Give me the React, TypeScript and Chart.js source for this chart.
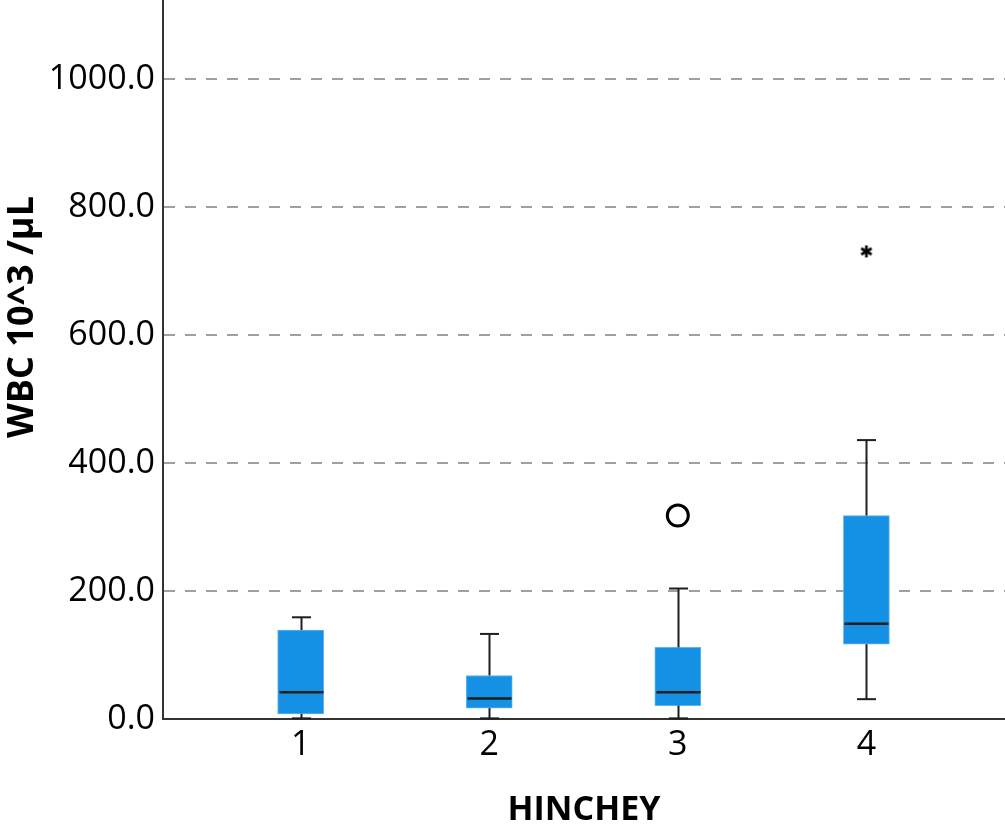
import React, { useEffect, useRef } from 'react';
import { Chart, registerables } from 'chart.js';

Chart.register(...registerables);

// ---- data ----
const categories = [1, 2, 3, 4];
const categoryLabels = ['1', '2', '3', '4'];
const whiskerLow = [1, 1, 1, 31];
const q1Values = [8, 17, 21, 117];
const medianValues = [42, 32, 42, 149];
const q3Values = [139, 68, 112, 318];
const whiskerHigh = [159, 133, 204, 436];
const outlierCategories = [3, 4];
const outlierValues = [318, 731];
const outlierKinds = ['outlier', 'extreme']; // O = outlier, * = extreme
const yTickValues = [0, 200, 400, 600, 800, 1000];
const yAxisTitle = 'WBC 10^3 /µL';
const xAxisTitle = 'HINCHEY';

const FONT = "'Open Sans', 'Noto Sans', sans-serif";

function makeAsterisk(): HTMLCanvasElement {
  const c = document.createElement('canvas');
  c.width = 16;
  c.height = 16;
  const g = c.getContext('2d')!;
  g.strokeStyle = '#000';
  g.lineWidth = 2.6;
  g.lineCap = 'butt';
  const r = 6;
  for (let k = 0; k < 3; k++) {
    const a = Math.PI / 2 + (k * Math.PI) / 3;
    g.beginPath();
    g.moveTo(8 - r * Math.cos(a), 8 - r * Math.sin(a));
    g.lineTo(8 + r * Math.cos(a), 8 + r * Math.sin(a));
    g.stroke();
  }
  return c;
}

const boxPlugin = {
  id: 'boxWhiskers',
  afterDatasetsDraw(chart: any) {
    const { ctx, scales } = chart;
    const x = scales.x;
    const y = scales.y;
    const meta = chart.getDatasetMeta(0);
    const capHalf = 9.5;
    const line = (x1: number, y1: number, x2: number, y2: number) => {
      ctx.beginPath();
      ctx.moveTo(x1, y1);
      ctx.lineTo(x2, y2);
      ctx.stroke();
    };
    ctx.save();
    ctx.strokeStyle = '#1e1e1e';
    categories.forEach((c, i) => {
      const cx = Math.round(x.getPixelForValue(c)) + 0.5;
      const bar = meta.data[i];
      const half = bar ? bar.width / 2 : 23;
      const yLow = y.getPixelForValue(whiskerLow[i]);
      const yQ1 = y.getPixelForValue(q1Values[i]);
      const yQ3 = y.getPixelForValue(q3Values[i]);
      const yHigh = y.getPixelForValue(whiskerHigh[i]);
      const yMed = y.getPixelForValue(medianValues[i]);
      ctx.lineWidth = 2;
      line(cx, yLow, cx, yQ1);
      line(cx, yQ3, cx, yHigh);
      line(cx - capHalf, yLow, cx + capHalf, yLow);
      line(cx - capHalf, yHigh, cx + capHalf, yHigh);
      ctx.lineWidth = 2.5;
      line(cx - half + 1, yMed, cx + half - 1, yMed);
    });
    ctx.restore();
  },
  afterDraw(chart: any) {
    const { ctx } = chart;
    ctx.save();
    ctx.translate(33, 317);
    ctx.rotate(-Math.PI / 2);
    ctx.font = `bold 36px ${FONT}`;
    ctx.fillStyle = '#000';
    ctx.textAlign = 'center';
    ctx.textBaseline = 'alphabetic';
    ctx.fillText(yAxisTitle, 0, 0);
    ctx.restore();
  },
};

export default function App() {
  const canvasRef = useRef<HTMLCanvasElement | null>(null);

  useEffect(() => {
    if (!canvasRef.current) return;
    const asterisk = makeAsterisk();
    const chart = new Chart(canvasRef.current, {
      type: 'bar',
      data: {
        datasets: [
          {
            type: 'bar',
            data: categories.map((c, i) => ({ x: c, y: [q1Values[i], q3Values[i]] })) as any,
            backgroundColor: '#1490E5',
            borderColor: '#62b2ee',
            borderWidth: 1,
            borderSkipped: false,
            barThickness: 46,
          } as any,
          {
            type: 'scatter',
            data: outlierCategories.map((c, i) => ({ x: c, y: outlierValues[i] })),
            pointStyle: outlierKinds.map((k) => (k === 'outlier' ? 'circle' : asterisk)) as any,
            pointRadius: [10.5, 7],
            pointBorderWidth: [3, 2.5],
            borderColor: '#000',
            backgroundColor: 'rgba(0,0,0,0)',
          } as any,
        ],
      },
      options: {
        responsive: false,
        animation: false,
        layout: { padding: 0, autoPadding: false },
        plugins: {
          legend: { display: false },
          tooltip: { enabled: false },
        },
        scales: {
          x: {
            type: 'linear',
            min: 0.27,
            max: 4.735,
            offset: false,
            grid: { display: false, drawTicks: false },
            border: { display: true, color: '#333', width: 2 },
            afterBuildTicks: (scale: any) => {
              scale.ticks = categories.map((v) => ({ value: v }));
            },
            afterFit: (scale: any) => {
              scale.height = 113;
              scale.paddingLeft = 0;
              scale.paddingRight = 0;
            },
            ticks: {
              color: '#000',
              font: { family: FONT, size: 34 },
              padding: 6,
              callback: (v: any) => categoryLabels[categories.indexOf(Number(v))] ?? '',
            },
            title: {
              display: true,
              text: xAxisTitle,
              color: '#000',
              font: { family: FONT, size: 34, weight: 'bold' },
              padding: { top: 0, bottom: 1 },
            },
          },
          y: {
            type: 'linear',
            min: 0,
            max: 1124,
            grid: {
              color: '#a0a0a0',
              lineWidth: 2,
              drawTicks: false,
            },
            border: { display: true, color: '#333', width: 2, dash: [11, 10] },
            afterBuildTicks: (scale: any) => {
              scale.ticks = yTickValues.map((v) => ({ value: v }));
            },
            afterFit: (scale: any) => {
              scale.width = 163;
              scale.paddingTop = 0;
              scale.paddingBottom = 0;
            },
            ticks: {
              color: '#000',
              font: { family: FONT, size: 34 },
              padding: 8,
              callback: (v: any) => Number(v).toFixed(1),
            },
          },
        },
      },
      plugins: [boxPlugin],
    } as any);
    return () => chart.destroy();
  }, []);

  return (
    <div style={{ position: 'absolute', left: 0, top: 0, width: 1005, height: 832 }}>
      <canvas ref={canvasRef} width={1005} height={832} style={{ display: 'block' }} />
    </div>
  );
}
